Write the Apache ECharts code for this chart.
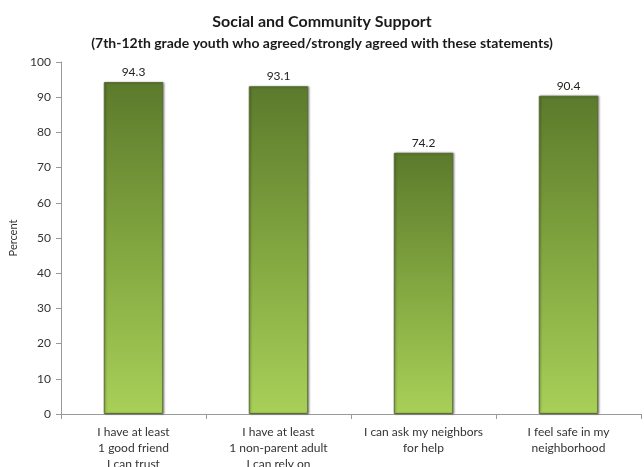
<!DOCTYPE html>
<html>
<head>
<meta charset="utf-8">
<script src="https://cdn.jsdelivr.net/npm/echarts@6/dist/echarts.min.js"></script>
<style>
  html, body { margin: 0; padding: 0; background: #fff; }
  #chart { width: 644px; height: 467px; }
</style>
</head>
<body>
<div id="chart"></div>
<script>
// Share of 7th-12th grade youth agreeing with each statement
const categories = [
  'I have at least\n1 good friend\nI can trust',
  'I have at least\n1 non-parent adult\nI can rely on',
  'I can ask my neighbors\nfor help',
  'I feel safe in my\nneighborhood'
];
const percentValues = [94.3, 93.1, 74.2, 90.4];
const yTicks = [0, 10, 20, 30, 40, 50, 60, 70, 80, 90, 100];

const FONT = 'Lato, "Open Sans", sans-serif';

const chart = echarts.init(document.getElementById('chart'), null, { renderer: 'canvas' });

chart.setOption({
  animation: false,
  backgroundColor: '#ffffff',
  title: [
    {
      text: 'Social and Community Support',
      left: 'center',
      top: 9,
      textStyle: { fontFamily: FONT, fontSize: 16, fontWeight: 'bold', color: '#1a1a1a' }
    },
    {
      text: '(7th-12th grade youth who agreed/strongly agreed with these statements)',
      left: 'center',
      top: 31,
      textStyle: { fontFamily: FONT, fontSize: 14, fontWeight: 'bold', color: '#1a1a1a' }
    }
  ],
  // Plot area is fixed; the long category labels may run past the bottom edge
  grid: { left: 61, right: 3, top: 62, bottom: 53, containLabel: false, outerBoundsMode: 'none' },
  xAxis: {
    type: 'category',
    data: categories,
    axisLine: { lineStyle: { color: '#9a9a9a', width: 1 } },
    axisTick: { show: true, alignWithLabel: false, length: 5, lineStyle: { color: '#9a9a9a' } },
    axisLabel: {
      fontFamily: FONT, fontSize: 12, color: '#333', lineHeight: 16, margin: 10,
      interval: 0
    }
  },
  yAxis: {
    type: 'value',
    min: yTicks[0],
    max: yTicks[yTicks.length - 1],
    interval: 10,
    name: 'Percent',
    nameLocation: 'middle',
    nameGap: 40,
    nameRotate: 90,
    nameTextStyle: { fontFamily: FONT, fontSize: 11, color: '#333' },
    axisLine: { show: true, lineStyle: { color: '#9a9a9a', width: 1 } },
    axisTick: { show: true, length: 5, lineStyle: { color: '#9a9a9a' } },
    axisLabel: { fontFamily: FONT, fontSize: 12, color: '#333', margin: 10 },
    splitLine: { show: false }
  },
  series: [{
    type: 'bar',
    data: percentValues,
    barCategoryGap: '59%',
    itemStyle: {
      color: new echarts.graphic.LinearGradient(0, 0, 0, 1, [
        { offset: 0, color: '#5c7a2c' },
        { offset: 0.5, color: '#82a640' },
        { offset: 1, color: '#a8d058' }
      ]),
      borderColor: '#5a6e34',
      borderWidth: 1,
      shadowColor: 'rgba(0,0,0,0.35)',
      shadowBlur: 2,
      shadowOffsetX: 1,
      shadowOffsetY: 0
    },
    label: {
      show: true,
      position: 'top',
      distance: 4,
      fontFamily: FONT,
      fontSize: 12,
      color: '#222',
      formatter: p => p.value.toFixed(1)
    }
  }]
});
</script>
</body>
</html>
